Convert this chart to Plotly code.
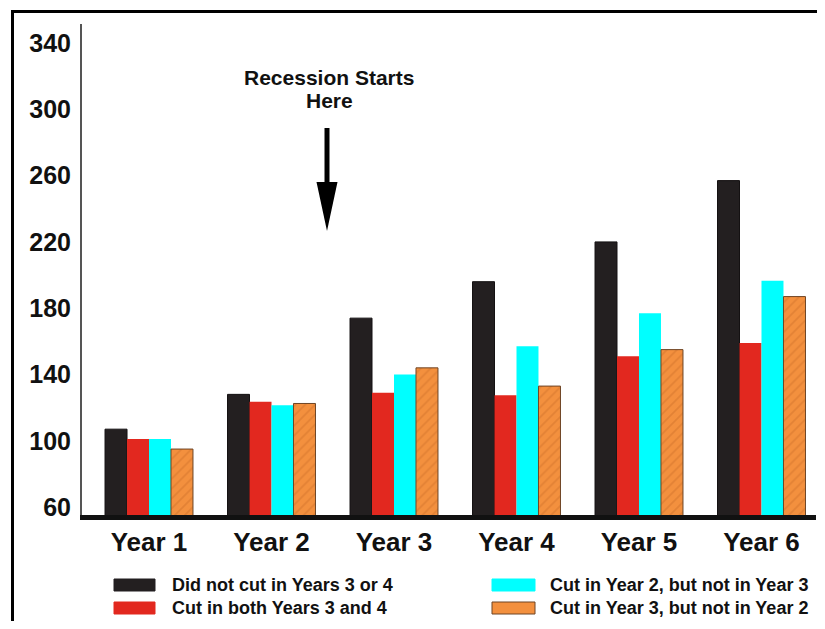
import plotly.graph_objects as go

# ---------------- data ----------------
categories = ["Year 1", "Year 2", "Year 3", "Year 4", "Year 5", "Year 6"]
did_not_cut = [107, 128, 174, 196, 220, 257]
cut_both = [101, 123.5, 129, 127.5, 151, 159]
cut_y2_not_y3 = [101, 121.5, 140, 157, 177, 196.5]
cut_y3_not_y2 = [95, 122.5, 144, 133, 155, 187]
series_names = [
    "Did not cut in Years 3 or 4",
    "Cut in both Years 3 and 4",
    "Cut in Year 2, but not in Year 3",
    "Cut in Year 3, but not in Year 2",
]
y_ticks = [60, 100, 140, 180, 220, 260, 300, 340]
annotation_lines = ["Recession Starts", "Here"]

# ---------------- styling ----------------
OFF = 8  # default page body margin
W, H = 825 - 2 * OFF, 629 - 2 * OFF
ML, MR, MT, MB = 74, 1, 16, 106
PW, PH = W - ML - MR, H - MT - MB
FONT = "Liberation Sans, Arial, Helvetica, sans-serif"
colors = ["#231f20", "#e2281f", "#00ffff", "#f3903e"]


def xp(px):
    """page pixel x -> paper coordinate"""
    return (px - OFF - ML) / PW


def yp(py):
    """page pixel y -> paper coordinate"""
    return (H - MB - (py - OFF)) / PH


fig = go.Figure()
series = [did_not_cut, cut_both, cut_y2_not_y3, cut_y3_not_y2]
for i, (name, vals) in enumerate(zip(series_names, series)):
    marker = dict(color=colors[i], line=dict(width=0))
    if i == 3:
        marker = dict(
            color=colors[i],
            line=dict(width=1, color="#6e4424"),
            pattern=dict(shape="/", fgcolor="#d2732c", bgcolor=colors[i],
                         size=7, solidity=0.25),
        )
    elif i == 0:
        marker = dict(color=colors[i], line=dict(width=1, color="#141112"))
    fig.add_bar(x=categories, y=vals, name=name, marker=marker, showlegend=False)

shapes = []
annotations = []

# manual legend (wide swatches as in the original)
legend_cols = [(114, 155, 170), (492, 535, 548)]
legend_rows = [585, 608]
for i, name in enumerate(series_names):
    x0, x1, tx = legend_cols[i // 2]
    yc = legend_rows[i % 2]
    shapes.append(dict(
        type="rect", xref="paper", yref="paper",
        x0=xp(x0), x1=xp(x1), y0=yp(yc + 6), y1=yp(yc - 6),
        fillcolor=colors[i],
        line=dict(width=1, color="#6e4424" if i == 3 else colors[i]),
    ))
    annotations.append(dict(
        text=name, xref="paper", yref="paper", x=xp(tx), y=yp(yc),
        xanchor="left", yanchor="middle", showarrow=False,
        font=dict(family=FONT, size=18, color="#111", weight="bold"),
    ))

# recession label and arrow
for j, line in enumerate(annotation_lines):
    annotations.append(dict(
        text=line, xref="paper", yref="paper", x=xp(329), y=yp(78 + 22 * j),
        xanchor="center", yanchor="middle", showarrow=False,
        font=dict(family=FONT, size=21, color="#111", weight="bold"),
    ))
shapes.append(dict(type="line", xref="paper", yref="paper",
                   x0=xp(327), x1=xp(327), y0=yp(128), y1=yp(186),
                   line=dict(color="#000", width=5)))
shapes.append(dict(
    type="path", xref="paper", yref="paper",
    path=f"M {xp(316.5)} {yp(182)} L {xp(337.5)} {yp(182)} L {xp(327)} {yp(231)} Z",
    fillcolor="#000", line=dict(width=0),
))

# outer frame (top and left edges)
shapes.append(dict(type="line", xref="paper", yref="paper",
                   x0=xp(11), x1=xp(830), y0=yp(11.5), y1=yp(11.5),
                   line=dict(color="#000", width=3)))
shapes.append(dict(type="line", xref="paper", yref="paper",
                   x0=xp(12.5), x1=xp(12.5), y0=yp(10), y1=yp(640),
                   line=dict(color="#000", width=3)))

fig.update_layout(
    width=W, height=H,
    margin=dict(l=ML, r=MR, t=MT, b=MB),
    paper_bgcolor="white", plot_bgcolor="white",
    barmode="group", bargap=0.282, bargroupgap=0,
    showlegend=False,
    shapes=shapes, annotations=annotations,
    font=dict(family=FONT, color="#111"),
)
fig.update_xaxes(
    type="category", range=[-0.547, 5.445],
    showline=True, linecolor="#111", linewidth=5,
    ticks="", showgrid=False, zeroline=False,
    tickfont=dict(family=FONT, size=26, color="#111", weight="bold"),
    ticklabelstandoff=0,
)
fig.update_yaxes(
    range=[55.2, 351.5], tickvals=y_ticks,
    showline=True, linecolor="#555", linewidth=2,
    ticks="", showgrid=False, zeroline=False,
    tickfont=dict(family=FONT, size=25, color="#111", weight="bold"),
    ticklabelstandoff=4,
)

fig.write_html("out.html")
